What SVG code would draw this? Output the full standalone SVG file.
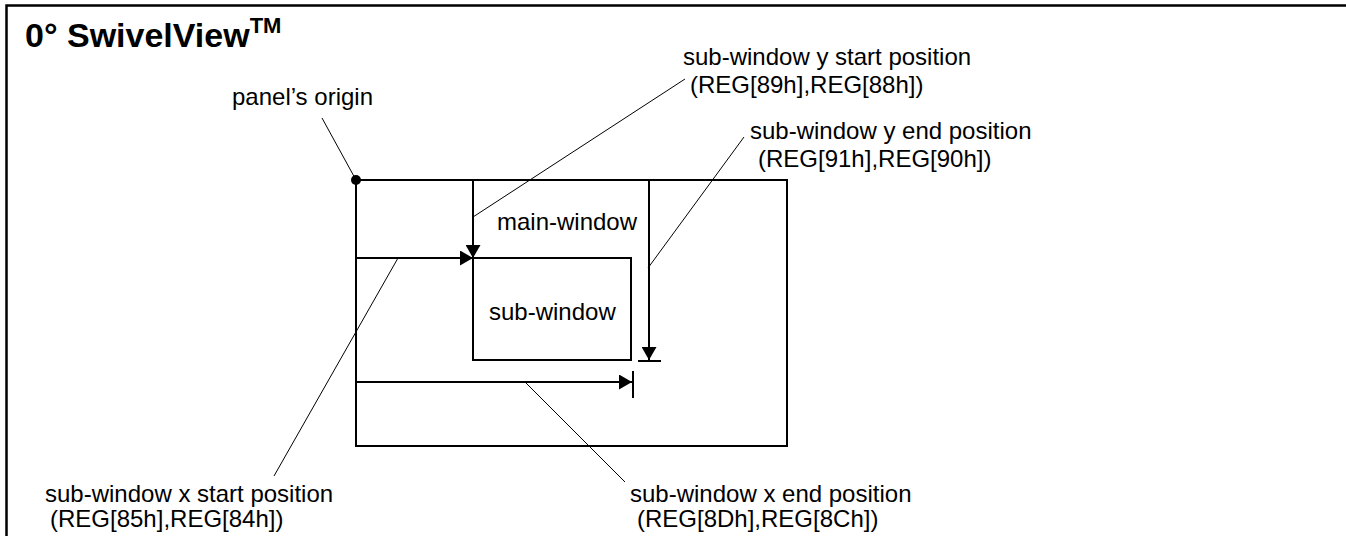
<svg xmlns="http://www.w3.org/2000/svg" width="1346" height="536" viewBox="0 0 1346 536">
<style>
  text { font-family: "Liberation Sans", Arial, sans-serif; font-size: 24px; fill: #000; }
  .title { font-weight: bold; font-size: 34px; }
  .tm { font-weight: bold; font-size: 22px; }
  .box { fill: none; stroke: #000; stroke-width: 2; }
  .dim { fill: none; stroke: #000; stroke-width: 2; }
  .lead { fill: none; stroke: #000; stroke-width: 1; }
</style>
<defs>
  <marker id="arr" markerUnits="userSpaceOnUse" markerWidth="13" markerHeight="15" refX="13" refY="7.5" orient="auto" viewBox="0 0 13 15">
    <path d="M0,0 L13,7.5 L0,15 z" fill="#000"/>
  </marker>
</defs>
<rect width="1346" height="536" fill="#fff"/>
<g id="frame">
  <path d="M6.5,536 V5.5 H1346" fill="none" stroke="#000" stroke-width="2.5"/>
  <text x="25" y="47" class="title">0° SwivelView<tspan class="tm" dy="-14">TM</tspan></text>
</g>
<g id="main-window">
  <rect x="356" y="180" width="431" height="266" class="box"/>
  <text x="497" y="230">main-window</text>
</g>
<g id="sub-window">
  <rect x="473" y="258" width="158" height="102" class="box"/>
  <text x="489" y="320">sub-window</text>
</g>
<g id="panel-origin">
  <circle cx="356" cy="180" r="5" fill="#000"/>
  <text x="232" y="105">panel’s origin</text>
</g>
<g id="label-ystart">
  <text x="683" y="65">sub-window y start position</text>
  <text x="690" y="93">(REG[89h],REG[88h])</text>
</g>
<g id="label-yend">
  <text x="750" y="139">sub-window y end position</text>
  <text x="758" y="167">(REG[91h],REG[90h])</text>
</g>
<g id="label-xstart">
  <text x="45" y="502">sub-window x start position</text>
  <text x="50" y="527">(REG[85h],REG[84h])</text>
</g>
<g id="label-xend">
  <text x="630" y="502">sub-window x end position</text>
  <text x="637" y="527">(REG[8Dh],REG[8Ch])</text>
</g>
<g id="connectors">
  <line x1="473" y1="181" x2="473" y2="258" class="dim" marker-end="url(#arr)"/>
  <line x1="357" y1="258" x2="473" y2="258" class="dim" marker-end="url(#arr)"/>
  <line x1="649" y1="181" x2="649" y2="360" class="dim" marker-end="url(#arr)"/>
  <line x1="638" y1="361" x2="661" y2="361" class="dim"/>
  <line x1="357" y1="382" x2="632" y2="382" class="dim" marker-end="url(#arr)"/>
  <line x1="633" y1="371" x2="633" y2="398" class="dim"/>
  <line x1="322" y1="118" x2="356" y2="180" class="lead"/>
  <line x1="473" y1="217" x2="685" y2="79" class="lead"/>
  <line x1="648" y1="268" x2="744" y2="137" class="lead"/>
  <line x1="398" y1="258" x2="274" y2="476" class="lead"/>
  <line x1="525" y1="382" x2="625" y2="482" class="lead"/>
</g>
</svg>
